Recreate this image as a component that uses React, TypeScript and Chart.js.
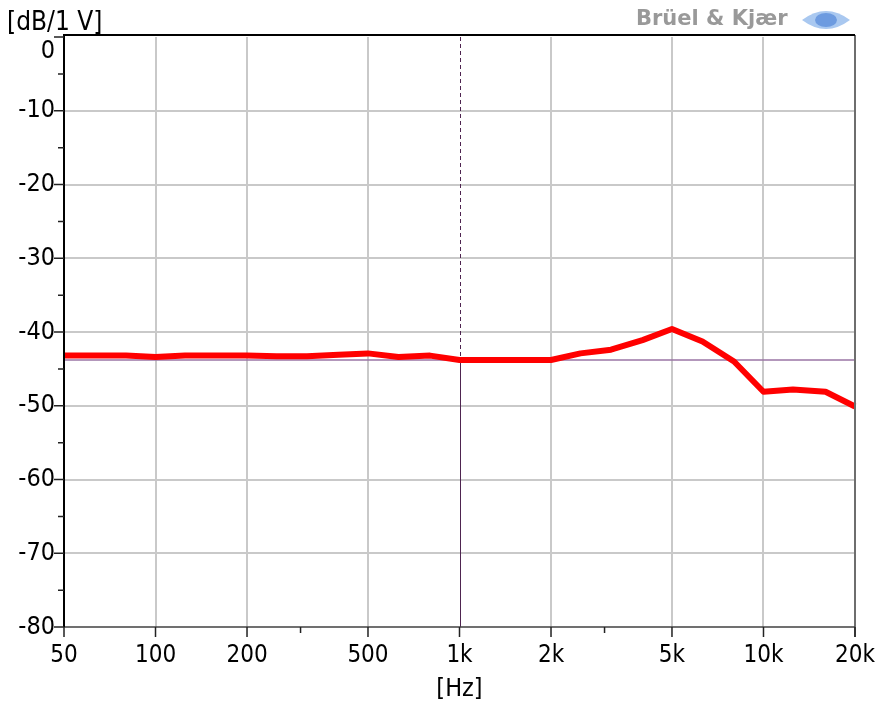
import React, { useEffect, useRef } from 'react';
import { Chart, registerables } from 'chart.js';

Chart.register(...registerables);

// 1/3-octave band centre frequencies [Hz]
const frequencies = [50, 63, 80, 100, 125, 160, 200, 250, 315, 400, 500, 630, 800, 1000, 1250, 1600, 2000, 2500, 3150, 4000, 5000, 6300, 8000, 10000, 12500, 16000, 20000];
// Level [dB re 1 V]
const levels = [-43.2, -43.2, -43.2, -43.4, -43.2, -43.2, -43.2, -43.3, -43.3, -43.1, -42.9, -43.4, -43.2, -43.8, -43.8, -43.8, -43.8, -42.9, -42.4, -41.1, -39.6, -41.3, -44.0, -48.1, -47.8, -48.1, -50.1];

const xMajorTicks = [50, 100, 200, 500, 1000, 2000, 5000, 10000, 20000];
const xTickLabels = ['50', '100', '200', '500', '1k', '2k', '5k', '10k', '20k'];
const xMinorTicks = [300, 3000];
const yMajorTicks = [0, -10, -20, -30, -40, -50, -60, -70, -80];
const yTickLabels = ['0', '-10', '-20', '-30', '-40', '-50', '-60', '-70', '-80'];
const yMinorTicks = [-5, -15, -25, -35, -45, -55, -65, -75];

const cursorFreq = 1000;
const cursorLevel = -43.8;

const xTitle = '[Hz]';
const yTitle = '[dB/1 V]';
const brand = 'Brüel & Kjær';

const FONT = '"DejaVu Sans Condensed", "DejaVu Sans", "Liberation Sans", sans-serif';

const overlayPlugin = {
  id: 'bkOverlay',
  beforeDatasetsDraw(chart: any) {
    const { ctx, chartArea: a, scales } = chart;
    const xs = scales.x;
    const ys = scales.y;
    const cx = xs.getPixelForValue(cursorFreq);
    const cy = ys.getPixelForValue(cursorLevel);
    ctx.save();
    ctx.strokeStyle = '#9a74a4';
    ctx.lineWidth = 1.5;
    ctx.beginPath();
    ctx.moveTo(a.left, cy);
    ctx.lineTo(a.right, cy);
    ctx.stroke();
    ctx.strokeStyle = '#4e2450';
    ctx.lineWidth = 1;
    ctx.setLineDash([4, 3]);
    ctx.beginPath();
    ctx.moveTo(Math.round(cx) + 0.5, a.top);
    ctx.lineTo(Math.round(cx) + 0.5, cy);
    ctx.stroke();
    ctx.setLineDash([]);
    ctx.beginPath();
    ctx.moveTo(Math.round(cx) + 0.5, cy);
    ctx.lineTo(Math.round(cx) + 0.5, a.bottom);
    ctx.stroke();
    ctx.restore();
  },
  afterDraw(chart: any) {
    const { ctx, chartArea: a, scales } = chart;
    const xs = scales.x;
    const ys = scales.y;
    ctx.save();
    ctx.lineWidth = 2;
    ctx.strokeStyle = '#6e6e6e';
    ctx.beginPath();
    ctx.moveTo(a.right, a.top - 2);
    ctx.lineTo(a.right, a.bottom + 10);
    ctx.stroke();
    ctx.strokeStyle = '#404040';
    ctx.lineWidth = 1.5;
    ctx.beginPath();
    ctx.moveTo(a.left, a.bottom);
    ctx.lineTo(a.right, a.bottom);
    ctx.stroke();
    ctx.strokeStyle = '#000';
    ctx.lineWidth = 2;
    ctx.beginPath();
    ctx.moveTo(a.left - 1, a.top - 2);
    ctx.lineTo(a.right, a.top - 2);
    ctx.moveTo(a.left, a.top - 2);
    ctx.lineTo(a.left, a.bottom);
    ctx.stroke();

    ctx.strokeStyle = '#222';
    ctx.lineWidth = 1.5;
    ctx.beginPath();
    yMajorTicks.forEach((v) => {
      const y = ys.getPixelForValue(v);
      ctx.moveTo(a.left - 10, y);
      ctx.lineTo(a.left, y);
    });
    yMinorTicks.forEach((v) => {
      const y = ys.getPixelForValue(v);
      ctx.moveTo(a.left - 6, y);
      ctx.lineTo(a.left, y);
    });
    xMajorTicks.forEach((v) => {
      const x = xs.getPixelForValue(v);
      ctx.moveTo(x, a.bottom);
      ctx.lineTo(x, a.bottom + 10);
    });
    xMinorTicks.forEach((v) => {
      const x = xs.getPixelForValue(v);
      ctx.moveTo(x, a.bottom);
      ctx.lineTo(x, a.bottom + 6);
    });
    ctx.stroke();

    ctx.fillStyle = '#000';
    ctx.font = `25px ${FONT}`;
    ctx.textAlign = 'right';
    ctx.textBaseline = 'middle';
    yMajorTicks.forEach((v, i) => {
      let y = ys.getPixelForValue(v);
      if (y < a.top + 14) y = a.top + 14;
      ctx.fillText(yTickLabels[i], a.left - 9, y);
    });

    ctx.textAlign = 'center';
    ctx.textBaseline = 'middle';
    ctx.fillText(xTitle, (a.left + a.right) / 2, 689);
    ctx.textAlign = 'left';
    ctx.font = `26px ${FONT}`;
    ctx.fillText(yTitle, 7, 23);

    ctx.font = `bold 21px "DejaVu Sans", sans-serif`;
    ctx.fillStyle = '#999999';
    ctx.textAlign = 'left';
    ctx.fillText(brand, 636, 20);
    ctx.fillStyle = '#a9c8f0';
    ctx.beginPath();
    ctx.moveTo(802, 20);
    ctx.quadraticCurveTo(826, 2, 850, 20);
    ctx.quadraticCurveTo(826, 38, 802, 20);
    ctx.fill();
    ctx.fillStyle = '#6d9be0';
    ctx.beginPath();
    ctx.ellipse(826, 20, 11, 7, 0, 0, Math.PI * 2);
    ctx.fill();
    ctx.restore();
  },
};

export default function App() {
  const canvasRef = useRef<HTMLCanvasElement | null>(null);

  useEffect(() => {
    const canvas = canvasRef.current;
    if (!canvas) return;
    const gridX = new Set([100, 200, 500, 2000, 5000, 10000]);
    const chart = new Chart(canvas, {
      type: 'line',
      data: {
        datasets: [
          {
            label: 'Level',
            data: frequencies.map((f, i) => ({ x: f, y: levels[i] })),
            borderColor: '#ff0000',
            backgroundColor: '#ff0000',
            borderWidth: 6,
            pointRadius: 0,
            tension: 0,
            borderJoinStyle: 'round',
            borderCapStyle: 'butt',
            clip: 4,
          },
        ],
      },
      options: {
        responsive: false,
        animation: false,
        layout: { padding: { left: 0, top: 37, right: 0, bottom: 0 } },
        plugins: { legend: { display: false }, tooltip: { enabled: false } },
        scales: {
          x: {
            type: 'logarithmic',
            min: 50,
            max: 20000,
            afterBuildTicks: (scale: any) => {
              scale.ticks = xMajorTicks.map((v) => ({ value: v }));
            },
            afterFit: (scale: any) => {
              scale.height = 77;
              scale.paddingLeft = 0;
              scale.paddingRight = 23;
            },
            ticks: {
              autoSkip: false,
              maxRotation: 0,
              minRotation: 0,
              padding: 14,
              color: '#000',
              font: { family: FONT, size: 24 },
              callback: (value: any) => {
                const i = xMajorTicks.indexOf(Number(value));
                return i >= 0 ? xTickLabels[i] : '';
              },
            },
            grid: {
              drawTicks: false,
              lineWidth: 2,
              color: (c: any) => (c.tick && gridX.has(c.tick.value) ? '#c9c9c9' : 'rgba(0,0,0,0)'),
            },
            border: { display: false },
          },
          y: {
            type: 'linear',
            min: -80,
            max: 0,
            afterBuildTicks: (scale: any) => {
              scale.ticks = yMajorTicks.map((v) => ({ value: v }));
            },
            afterFit: (scale: any) => {
              scale.width = 64;
            },
            ticks: { display: false },
            grid: {
              drawTicks: false,
              lineWidth: 2,
              color: (c: any) => (c.tick && c.tick.value !== 0 && c.tick.value !== -80 ? '#c9c9c9' : 'rgba(0,0,0,0)'),
            },
            border: { display: false },
          },
        },
      },
      plugins: [overlayPlugin],
    } as any);
    return () => chart.destroy();
  }, []);

  return (
    <div style={{ position: 'absolute', left: 0, top: 0, width: 878, height: 704, background: '#fff' }}>
      <canvas ref={canvasRef} width={878} height={704} style={{ display: 'block', width: 878, height: 704 }} />
    </div>
  );
}
